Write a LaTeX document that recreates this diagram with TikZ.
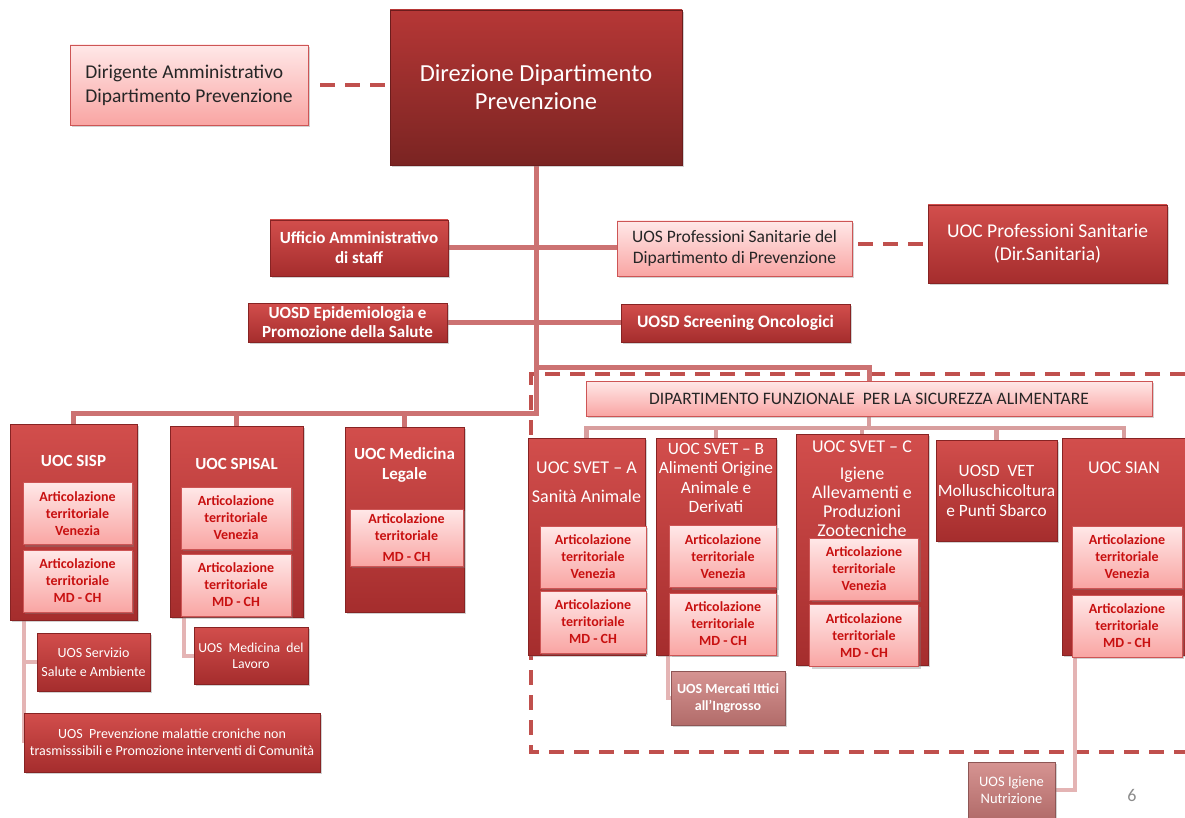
\documentclass[tikz,border=0pt]{standalone}
\usepackage{fontspec}
\setmainfont{Carlito}
\usepackage{xcolor}
\usetikzlibrary{shadows}
\usetikzlibrary{calc}
\usetikzlibrary{backgrounds}

\definecolor{boxtop}{RGB}{210,78,76}
\definecolor{boxbot}{RGB}{165,45,45}
\definecolor{boxline}{RGB}{135,35,35}
\definecolor{headtop}{RGB}{182,55,54}
\definecolor{headbot}{RGB}{122,36,34}
\definecolor{pinktop}{RGB}{255,232,232}
\definecolor{pinkbot}{RGB}{249,165,163}
\definecolor{pinkline}{RGB}{205,85,85}
\definecolor{arttext}{RGB}{200,16,16}
\definecolor{mutetop}{RGB}{214,148,146}
\definecolor{mutebot}{RGB}{178,108,106}
\definecolor{linkred}{RGB}{204,114,114}
\definecolor{linklight}{RGB}{216,158,158}
\definecolor{linkpale}{RGB}{228,180,180}
\definecolor{dashred}{RGB}{192,80,77}

\begin{document}
\begin{tikzpicture}[x=1pt, y=-1pt]

\tikzset{%
    every box/.style = {
        rectangle,
        draw,
        line width=0.8pt,
        inner sep=1pt,
        align=center,
        drop shadow={shadow xshift=2pt, shadow yshift=-2pt, opacity=0.35}
    },
    box dark/.style = {
        draw=boxline, top color=boxtop, bottom color=boxbot, text=white
    },
    box head/.style = {
        draw=boxline!80!black, top color=headtop, bottom color=headbot, text=white
    },
    box pink/.style = {
        draw=pinkline, top color=pinktop, bottom color=pinkbot, text=black!85
    },
    box art/.style = {
        draw=pinkline, top color=pinktop, bottom color=pinkbot, text=arttext,
        font=\fontsize{14}{17}\selectfont\bfseries
    },
    box mute/.style = {
        draw=mutebot!80!black, top color=mutetop, bottom color=mutebot, text=white
    },
    unit title/.style = {
        text=white, align=center, inner sep=0pt
    },
    conn main/.style = {draw=linkred, line width=5pt, line cap=rect},
    conn light/.style = {draw=linklight, line width=4.5pt, line cap=rect},
    conn pale/.style = {draw=linkpale, line width=4pt},
    conn dashed/.style = {draw=dashred, line width=4pt, dash pattern=on 15pt off 10pt}
}

\useasboundingbox (0,0) rectangle (1185,818);

% top of the chart
\node [every box, box head, minimum width=292, minimum height=155,
       font=\fontsize{24.5}{28}\selectfont] (direzione) at (536,87.5)
      {Direzione Dipartimento\\Prevenzione};
\node [every box, box pink, minimum width=238, minimum height=80, align=left,
       font=\fontsize{19.5}{24}\selectfont] (dirigente) at (189,85)
      {Dirigente Amministrativo\\Dipartimento Prevenzione};

\node [every box, box dark, minimum width=178, minimum height=56,
       font=\fontsize{17}{20}\selectfont\bfseries] (ufficio) at (359,248)
      {Ufficio Amministrativo\\di staff};
\node [every box, box pink, minimum width=235, minimum height=55,
       font=\fontsize{17.5}{21}\selectfont] (profuos) at (734.5,248.5)
      {UOS Professioni Sanitarie del\\Dipartimento di Prevenzione};
\node [every box, box dark, minimum width=239, minimum height=78,
       font=\fontsize{19.5}{23}\selectfont] (profuoc) at (1047.5,244)
      {UOC Professioni Sanitarie\\(Dir.Sanitaria)};
\node [every box, box dark, minimum width=199, minimum height=39,
       font=\fontsize{17}{19}\selectfont\bfseries] (epi) at (347.5,322.5)
      {UOSD Epidemiologia e\\Promozione della Salute};
\node [every box, box dark, minimum width=229, minimum height=38,
       font=\fontsize{17.5}{20}\selectfont\bfseries] (screen) at (735.5,323)
      {UOSD Screening Oncologici};

\node [every box, box pink, minimum width=566, minimum height=35,
       font=\fontsize{17.5}{20}\selectfont] (dip) at (869,398.5)
      {DIPARTIMENTO FUNZIONALE\ \ PER LA SICUREZZA ALIMENTARE};

% the units
\foreach \n/\x/\y/\w/\h in {sisp/73.5/522/127/196, spisal/236.5/521.5/133/191,
    medleg/404.5/519.5/119/185, sveta/586.5/546.5/117/217, svetb/716/546.5/120/217,
    svetc/862/549.5/132/231, vet/996.5/490.5/121/101, sian/1124/546.5/124/217}
  \node [every box, box dark, minimum width=\w, minimum height=\h] (\n) at (\x,\y) {};

\node [unit title, font=\fontsize{17}{20}\selectfont\bfseries] (sisp-t) at (73.5,461) {UOC SISP};
\node [unit title, font=\fontsize{17}{20}\selectfont\bfseries] (spisal-t) at (236.5,464) {UOC SPISAL};
\node [unit title, font=\fontsize{17}{20}\selectfont\bfseries] (medleg-t) at (404.5,465) {UOC Medicina\\Legale};
\node [unit title, font=\fontsize{18}{19.5}\selectfont] (sveta-t) at (586.5,482.5)
      {UOC SVET – A\\[9.5pt]Sanità Animale};
\node [unit title, font=\fontsize{17.3}{19.5}\selectfont] (svetb-t) at (716,478)
      {UOC SVET – B\\Alimenti Origine\\Animale e\\Derivati};
\node [unit title, font=\fontsize{18}{19}\selectfont] (svetc-t) at (862,489)
      {UOC SVET – C\\[8pt]Igiene\\Allevamenti e\\Produzioni\\Zootecniche};
\node [unit title, font=\fontsize{17.3}{20}\selectfont] (vet-t) at (996.5,491)
      {UOSD\ \ VET\\Molluschicoltura\\e Punti Sbarco};
\node [unit title, font=\fontsize{18}{20}\selectfont] (sian-t) at (1124,468) {UOC SIAN};

\foreach \n/\x/\yv/\ym/\w in {sisp/77.5/513.5/581/109, spisal/236/518/585/110,
    sveta/593/557/622/106, svetb/723/556.5/624/107, svetc/864/569/635.5/109,
    sian/1127/557/626/110}
{
  \node [every box, box art, minimum width=\w, minimum height=62] (\n-ven) at (\x,\yv)
        {Articolazione\\territoriale\\Venezia};
  \node [every box, box art, minimum width=\w, minimum height=62] (\n-md) at (\x,\ym)
        {Articolazione\\territoriale\\MD - CH};
}
\node [every box, box art, minimum width=113, minimum height=57] (medleg-md) at (406.5,537.5)
      {Articolazione\\territoriale\\[4pt]MD - CH};

% offices below the units
\node [every box, box dark, minimum width=113, minimum height=58,
       font=\fontsize{14}{19}\selectfont] (servizio) at (93.5,662)
      {UOS Servizio\\Salute e Ambiente};
\node [every box, box dark, minimum width=114, minimum height=57,
       font=\fontsize{13.7}{16}\selectfont] (lavoro) at (251,655.5)
      {UOS\ \ Medicina\ \ del\\Lavoro};
\node [every box, box dark, minimum width=296, minimum height=59,
       font=\fontsize{14}{17}\selectfont] (prevcron) at (172,742.5)
      {UOS\ \ Prevenzione malattie croniche non\\trasmisssibili e Promozione interventi di Comunità};
\node [every box, box mute, minimum width=114, minimum height=54,
       font=\fontsize{14}{17}\selectfont\bfseries] (mercati) at (728,698)
      {UOS Mercati Ittici\\all’Ingrosso};
\node [every box, box mute, minimum width=87, minimum height=56,
       font=\fontsize{14.5}{17}\selectfont] (nutrizione) at (1011.5,790)
      {UOS Igiene\\Nutrizione};

\node [text=black!45, font=\fontsize{18}{20}\selectfont] (pagenum) at (1132,795) {6};

\coordinate (busleft) at (536,413);
\coordinate (busright) at (536,367);
\coordinate (busdip) at (869,428);

\begin{pgfonlayer}{background}
\fill [white] (0,0) rectangle (1185,818);

\draw [conn dashed] (1185,374) -- (531,374) -- (531,752) -- (1185,752);

\draw [conn dashed, shorten <=12pt, shorten >=4pt] (dirigente.east) -- (dirigente.east -| direzione.west);
\draw [conn dashed, shorten <=6pt] (profuoc.west -| profuos.east) -- (profuoc.west);

\draw [conn main] (direzione.south) -- (busleft) -| (sisp.north);
\foreach \n in {spisal, medleg}
  \draw [conn main] (\n.north) -- (\n.north |- busleft);
\draw [conn main] (busright) -| (dip.north);
\draw [conn main] (ufficio.east) -- (ufficio.east -| profuos.west);
\draw [conn main] (epi.east) -- (epi.east -| screen.west);

\draw [conn light] (dip.south) -- (busdip);
\draw [conn light] (sveta.north |- busdip) -- (sian.north |- busdip);
\foreach \n in {sveta, svetb, svetc, vet, sian}
  \draw [conn light] (\n.north) -- (\n.north |- busdip);

\draw [conn pale] ($(sisp.south west)+(14,0)$) |- (prevcron.west);
\draw [conn pale] ($(sisp.south west)+(14,0)$) |- (servizio.west);
\draw [conn pale] ($(spisal.south west)+(14,0)$) |- (lavoro.west);
\draw [conn pale] ($(svetb.south west)+(12,0)$) |- (mercati.west);
\draw [conn pale] ($(sian.south west)+(13,0)$) |- (nutrizione.east);
\end{pgfonlayer}

\end{tikzpicture}
\end{document}
